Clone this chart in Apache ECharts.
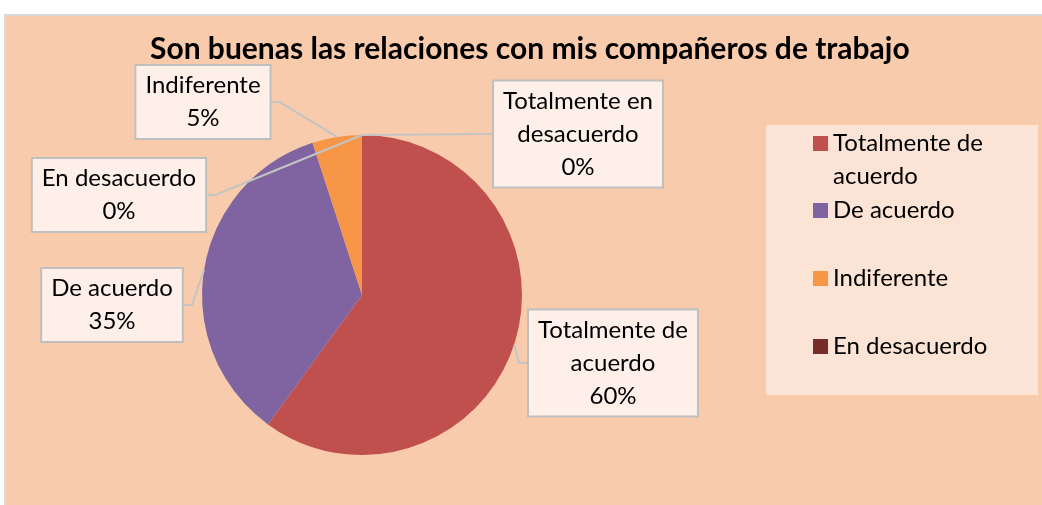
<!DOCTYPE html>
<html>
<head>
<meta charset="utf-8">
<script src="https://cdn.jsdelivr.net/npm/echarts@6/dist/echarts.min.js"></script>
<style>
  html, body {margin: 0; padding: 0; background: #fff;}
  #main {width: 1042px; height: 505px;}
</style>
</head>
<body>
<div id="main"></div>
<script>
// data
var categories = ['Totalmente de acuerdo', 'De acuerdo', 'Indiferente', 'En desacuerdo', 'Totalmente en desacuerdo'];
var values = [60, 35, 5, 0, 0];
var legendNames = ['Totalmente de acuerdo', 'De acuerdo', 'Indiferente', 'En desacuerdo'];
var colors = ['#C0504D', '#8064A2', '#F79646', '#772C2A', '#4BACC6'];

// where each callout box sits (center of box)
var labelPos = [[613, 363], [112, 305], [203, 102], [119, 195], [578, 134]];
var legendTops = [94, 194, 262, 330];

function wrapName(name) {
    var w = name.split(' ');
    if (w.length > 2) return w.slice(0, 2).join(' ') + '\n' + w.slice(2).join(' ');
    return name;
}

var FONT = 'Lato, "Open Sans", sans-serif';

var myChart = echarts.init(document.getElementById('main'));

var legends = legendNames.map(function (name, i) {
    return {
        data: [name],
        orient: 'vertical',
        left: 813,
        top: legendTops[i],
        padding: 0,
        icon: 'rect',
        itemWidth: 15,
        itemHeight: 15,
        selectedMode: false,
        // wrapped names start on the icon's line (blank line above balances the centering)
        formatter: function (n) {
            var t = wrapName(n);
            return t.indexOf('\n') >= 0 ? '\n' + t : t;
        },
        textStyle: {fontFamily: FONT, fontSize: 24, color: '#000', lineHeight: 33}
    };
});

myChart.setOption({
    animation: false,
    color: colors,
    title: {
        text: 'Son buenas las relaciones con mis compañeros de trabajo',
        left: 145,
        top: 29,
        textStyle: {fontFamily: FONT, fontSize: 30, fontWeight: 'bold', color: '#000'}
    },
    graphic: [
        {type: 'rect', z: -10, shape: {x: 5, y: 15, width: 1040, height: 495},
            style: {fill: '#F8CBAD', stroke: '#D9D9D9', lineWidth: 2}},
        {type: 'rect', z: -9, shape: {x: 766, y: 125, width: 272, height: 270},
            style: {fill: '#FBE4D5'}}
    ],
    legend: legends,
    series: [
        {
            type: 'pie',
            center: [362, 295],
            radius: 160,
            startAngle: 90,
            clockwise: true,
            avoidLabelOverlap: false,
            emphasis: {disabled: true},
            label: {
                show: true,
                fontFamily: FONT,
                fontSize: 24,
                lineHeight: 33,
                color: '#000',
                align: 'center',
                backgroundColor: '#FEF0E8',
                borderColor: '#BFBFBF',
                borderWidth: 2,
                padding: [3, 9],
                formatter: function (p) {
                    return wrapName(p.name) + '\n' + Math.round(p.percent) + '%';
                }
            },
            labelLine: {
                show: true,
                showAbove: true,
                length: 10,
                length2: 8,
                lineStyle: {color: '#C4C4C4', width: 2}
            },
            labelLayout: function (p) {
                var pos = labelPos[p.dataIndex];
                return {x: pos[0], y: pos[1], align: 'center', verticalAlign: 'middle'};
            },
            data: categories.map(function (c, i) {
                return {name: c, value: values[i]};
            })
        }
    ]
});
</script>
</body>
</html>
